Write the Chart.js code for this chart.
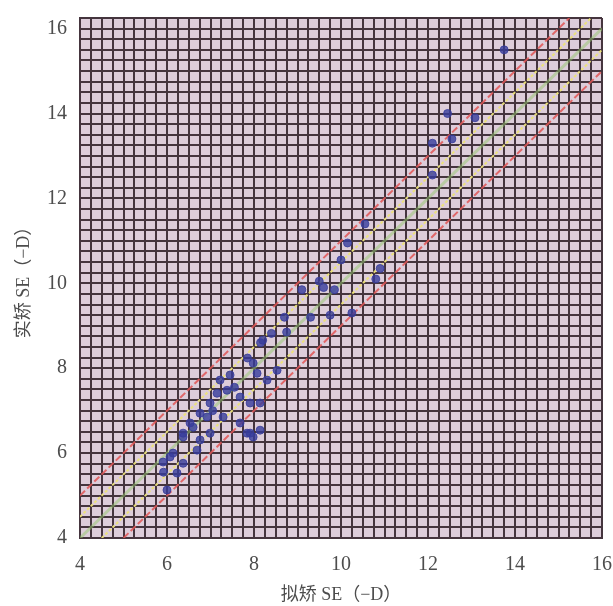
<!DOCTYPE html>
<html>
<head>
<meta charset="utf-8">
<script src="https://cdn.jsdelivr.net/npm/chart.js@4.4.1/dist/chart.umd.min.js"></script>
<style>
  html, body { margin: 0; padding: 0; background: #fff; }
  #wrap { width: 613px; height: 606px; }
</style>
</head>
<body>
<div id="wrap"><canvas id="seChart" width="613" height="606"></canvas></div>
<script>
// 拟矫 SE (x) 与 实矫 SE (y), 单位 -D
const plannedSE = [
  13.75, 12.45, 13.08, 12.1, 12.55, 12.1,
  10.55, 10.15, 10.0, 10.9, 10.8, 9.5, 9.85, 9.6, 9.1, 8.7, 9.3, 9.75, 10.25, 8.75,
  8.4, 8.2, 8.15, 7.85, 7.98, 8.07, 8.3, 8.53, 7.22, 7.45, 7.38, 7.15, 7.68, 7.91,
  8.14, 6.99, 6.76, 7.29, 7.68, 6.53, 7.91, 8.14, 6.99, 6.37, 6.76, 6.92, 6.6,
  6.37, 7.84, 7.98, 6.69, 6.14, 5.91, 6.37, 6.23, 6.07, 6.0, 5.92, 7.05, 7.55
];
const actualSE = [
  15.5, 14.0, 13.9, 13.3, 13.4, 12.55,
  11.4, 10.95, 10.55, 10.35, 10.1, 10.05, 9.85, 9.9, 9.85, 9.2, 9.2, 9.25, 9.3, 8.85,
  8.82, 8.66, 8.6, 8.24, 8.12, 7.88, 7.72, 7.95, 7.72, 7.84, 7.48, 7.41, 7.32, 7.18,
  7.18, 7.18, 6.94, 6.85, 6.71, 6.71, 6.47, 6.54, 6.47, 6.47, 6.31, 6.85, 6.61,
  6.38, 6.47, 6.38, 6.07, 6.0, 5.79, 5.76, 5.53, 5.91, 5.13, 5.55, 7.0, 7.55
];

// 参考线: y = x + offset
const redOffsets = [1, -1];
const yellowOffsets = [0.5, -0.5];
const greenOffsets = [0];

const axisMin = 4;
const xMax = 16;
const yMax = 16.25;
const gridStep = 0.25;
const tickLabels = [4, 6, 8, 10, 12, 14, 16];

function diagLine(off) {
  const lo = Math.max(axisMin, axisMin - off);
  const hi = Math.min(xMax, yMax - off);
  return [{ x: lo, y: lo + off }, { x: hi, y: hi + off }];
}

function refDataset(off, color, dash, width) {
  return {
    type: 'line',
    data: diagLine(off),
    borderColor: color,
    borderWidth: width,
    borderDash: dash,
    pointRadius: 0,
    fill: false,
    order: 2
  };
}

const points = plannedSE.map((x, i) => ({ x: x, y: actualSE[i] }));

const datasets = [];
greenOffsets.forEach(o => datasets.push(refDataset(o, 'rgba(150,200,110,0.5)', [], 3)));
yellowOffsets.forEach(o => datasets.push(refDataset(o, 'rgba(235,225,120,0.95)', [3, 2], 2)));
redOffsets.forEach(o => datasets.push(refDataset(o, 'rgba(225,85,85,0.85)', [7, 3], 2)));
datasets.push({
  type: 'scatter',
  data: points,
  backgroundColor: 'rgba(55,60,155,0.8)',
  borderColor: 'rgba(55,60,155,0.8)',
  pointRadius: 4,
  order: 1
});

// 绘图区背景
const areaBg = {
  id: 'areaBg',
  beforeDraw(chart) {
    const { ctx, chartArea: a } = chart;
    ctx.save();
    ctx.fillStyle = '#ddcdda';
    ctx.fillRect(a.left, a.top, a.right - a.left, a.bottom - a.top);
    ctx.restore();
  }
};

function labelCb(v) {
  return tickLabels.some(t => Math.abs(t - v) < 1e-6) ? String(v) : '';
}

const tickFont = { family: '"Liberation Serif", "DejaVu Serif", serif', size: 20 };
const titleFont = { family: '"Liberation Serif", "Noto Sans CJK SC", serif', size: 18 };

new Chart(document.getElementById('seChart'), {
  type: 'scatter',
  data: { datasets: datasets },
  options: {
    responsive: false,
    animation: false,
    layout: { padding: { top: 18, right: 11, left: 6, bottom: 0 } },
    plugins: { legend: { display: false }, tooltip: { enabled: false } },
    scales: {
      x: {
        type: 'linear',
        min: axisMin,
        max: xMax,
        grid: { color: '#45353e', lineWidth: 2, drawTicks: false },
        border: { color: '#45353e', width: 2 },
        ticks: {
          stepSize: gridStep,
          maxTicksLimit: 200,
          autoSkip: false,
          maxRotation: 0,
          padding: 15,
          color: '#4d4d4d',
          font: tickFont,
          callback: labelCb
        },
        title: { display: true, text: '拟矫 SE（−D）', color: '#4d4d4d', font: titleFont, padding: { top: 2, bottom: 0 } },
        afterFit(s) { s.height = 68; s.paddingLeft = 0; s.paddingRight = 0; }
      },
      y: {
        type: 'linear',
        min: axisMin,
        max: yMax,
        grid: { color: '#45353e', lineWidth: 2, drawTicks: false },
        border: { color: '#45353e', width: 2 },
        ticks: {
          stepSize: gridStep,
          maxTicksLimit: 200,
          autoSkip: false,
          padding: 13,
          color: '#4d4d4d',
          font: tickFont,
          callback: labelCb
        },
        title: { display: true, text: '实矫 SE（−D）', color: '#4d4d4d', font: titleFont, padding: { top: 7, bottom: 2 } },
        afterFit(s) { s.width = 74; s.paddingTop = 0; s.paddingBottom = 0; }
      }
    }
  },
  plugins: [areaBg]
});
</script>
</body>
</html>
